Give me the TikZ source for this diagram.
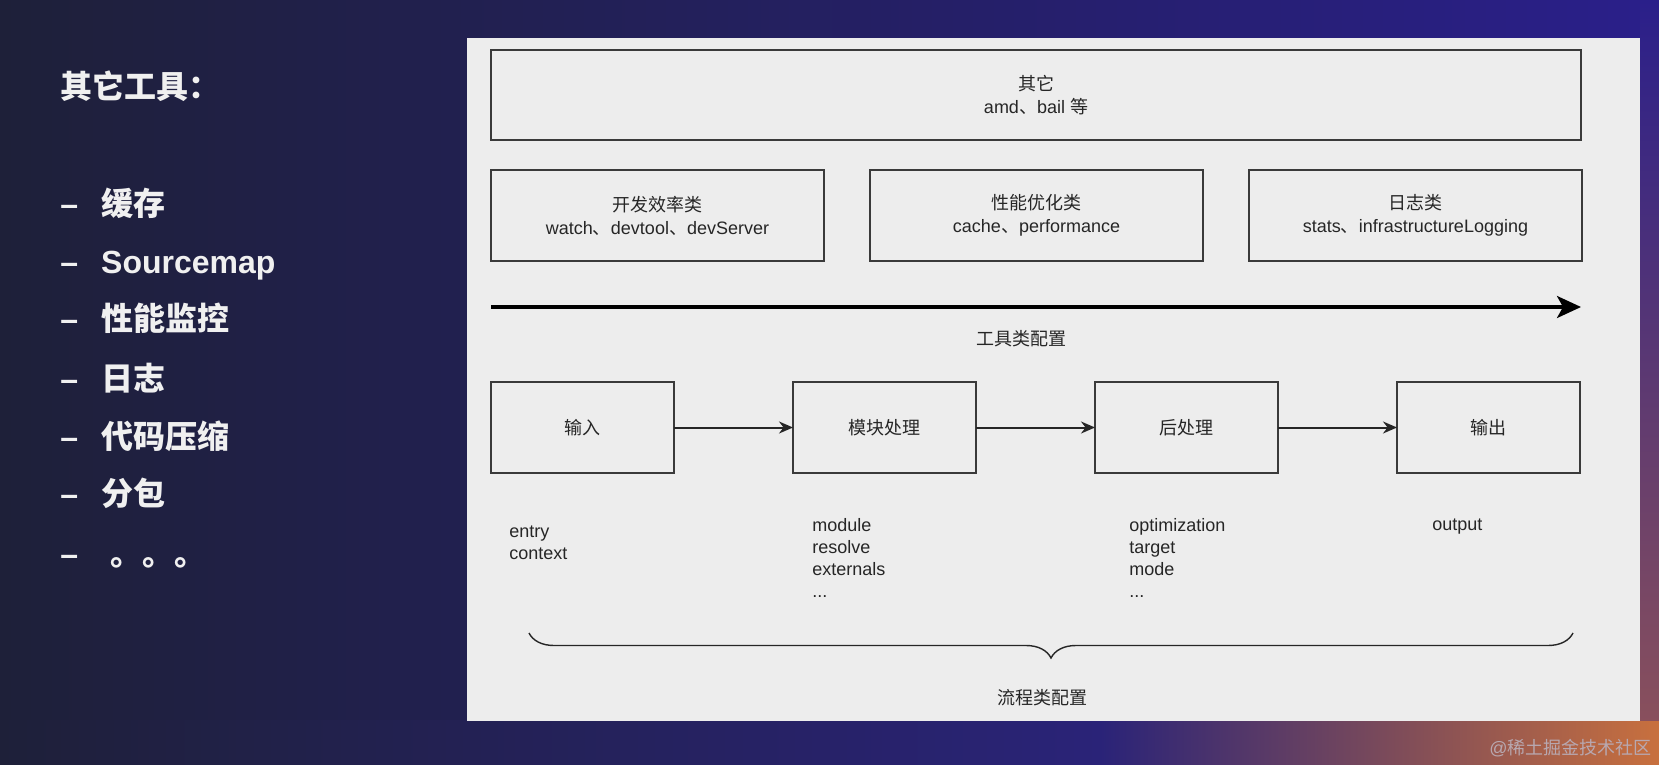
\documentclass[tikz,border=0pt]{standalone}
\usepackage{fontspec}
\setmainfont{Liberation Sans}
\newfontfamily\cjk{Noto Sans CJK SC}
\newcommand{\zh}[1]{{\cjk #1}}
\usetikzlibrary{arrows.meta,decorations.pathreplacing,positioning}

\definecolor{slidenavy}{HTML}{1E2039}
\definecolor{slideblue}{HTML}{2A1F8A}
\definecolor{slidepurple}{HTML}{2A2378}
\definecolor{slideorange}{HTML}{C8703E}
\definecolor{panelgray}{HTML}{EDEDED}
\definecolor{boxline}{HTML}{3A3A3A}
\definecolor{inkgray}{HTML}{262626}
\definecolor{slidetext}{HTML}{F0F0F0}
\definecolor{markgray}{HTML}{B8A8B0}

\begin{document}
\begin{tikzpicture}[x=0.5pt, y=-0.5pt,
    cfgbox/.style={draw=boxline, line width=0.8pt, inner sep=0pt, outer sep=0pt, align=center,
        text=inkgray, font=\fontsize{9}{11.5}\selectfont},
    flowbox/.style={cfgbox, minimum width=91.5pt, minimum height=45.5pt},
    toolbox/.style={cfgbox, minimum width=166.5pt, minimum height=45.5pt},
    optlist/.style={anchor=west, inner sep=0pt, align=left, text=inkgray,
        font=\fontsize{9}{11}\selectfont},
    cfglabel/.style={inner sep=0pt, text=inkgray, font=\fontsize{9}{11}\selectfont},
    flowarrow/.style={-{Stealth[length=7pt, width=6pt]}, line width=1pt, draw=inkgray},
    toolarrow/.style={-{Stealth[length=12pt, width=11pt, inset=3pt]}, line width=1.6pt, draw=black},
    listitem/.style={anchor=base west, inner sep=0pt, text=slidetext,
        font=\bfseries\fontsize{16}{19}\selectfont}]

    \useasboundingbox (0,0) rectangle (1659,765);

    % Slide background
    \shade[left color=slidenavy, middle color=slidenavy!75!slideblue, right color=slideblue]
        (0,0) rectangle (1659,765);
    \shade[left color=slidenavy, right color=slidepurple] (0,720) rectangle (1100,765);
    \shade[left color=slidepurple, right color=slideorange] (1100,720) rectangle (1659,765);
    \shade[top color=slideblue, bottom color=slideorange!60!slideblue] (1640,0) rectangle (1659,720);
    \node[anchor=east, inner sep=0pt, text=markgray, font=\fontsize{9}{11}\selectfont]
        (mark) at (1652,748) {@\zh{稀土掘金技术社区}};

    % Left list
    \node[listitem] (title) at (60,99) {\zh{其它工具：}};
    \node[listitem] (cache) at (60,215) {–\hspace{11.5pt}\zh{缓存}};
    \node[listitem] (srcmap) at (60,273) {–\hspace{11.5pt}Sourcemap};
    \node[listitem] (perfmon) at (60,330) {–\hspace{11.5pt}\zh{性能监控}};
    \node[listitem] (logging) at (60,390) {–\hspace{11.5pt}\zh{日志}};
    \node[listitem] (minify) at (60,448) {–\hspace{11.5pt}\zh{代码压缩}};
    \node[listitem] (split) at (60,505) {–\hspace{11.5pt}\zh{分包}};
    \node[listitem] (etc) at (60,565) {–\hspace{16pt}\zh{。。。}};

    % Panel
    \fill[panelgray] (467,38) rectangle (1640,721);

    % Tool config
    \node[cfgbox, minimum width=545pt, minimum height=45pt] (other) at (1036,95)
        {\zh{其它}\\amd\zh{、}bail \zh{等}};
    \node[toolbox] (dev) at (657.5,215.5) {\zh{开发效率类}\\watch\zh{、}devtool\zh{、}devServer};
    \node[toolbox, right=23pt of dev] (perf) {\zh{性能优化类}\\cache\zh{、}performance};
    \node[toolbox, right=23pt of perf] (log) {\zh{日志类}\\stats\zh{、}infrastructureLogging};

    \coordinate (toolstart) at (491,307);
    \coordinate (toolend) at (1581,307);
    \draw[toolarrow] (toolstart) -- (toolend);
    \node[cfglabel] (toollabel) at (1021,339) {\zh{工具类配置}};

    % Flow config
    \node[flowbox] (input) at (582.5,427.5) {\zh{输入}};
    \node[flowbox, right=59.5pt of input] (module) {\zh{模块处理}};
    \node[flowbox, right=59.5pt of module] (post) {\zh{后处理}};
    \node[flowbox, right=59.5pt of post] (output) {\zh{输出}};

    \draw[flowarrow] (input) -- (module);
    \draw[flowarrow] (module) -- (post);
    \draw[flowarrow] (post) -- (output);

    \node[optlist] (inputopts) at (509,543) {entry\\context};
    \node[optlist] (moduleopts) at (812,558) {module\\resolve\\externals\\...};
    \node[optlist] (postopts) at (1129,558) {optimization\\target\\mode\\...};
    \node[optlist] (outputopts) at (1432,527) {output};

    \coordinate (braceleft) at (529,633);
    \coordinate (braceright) at (1573,633);
    \draw[draw=inkgray, line width=0.7pt, decorate,
        decoration={brace, mirror, amplitude=12.5pt}] (braceleft) -- (braceright);
    \node[cfglabel] (flowlabel) at (1042,698) {\zh{流程类配置}};
\end{tikzpicture}
\end{document}
